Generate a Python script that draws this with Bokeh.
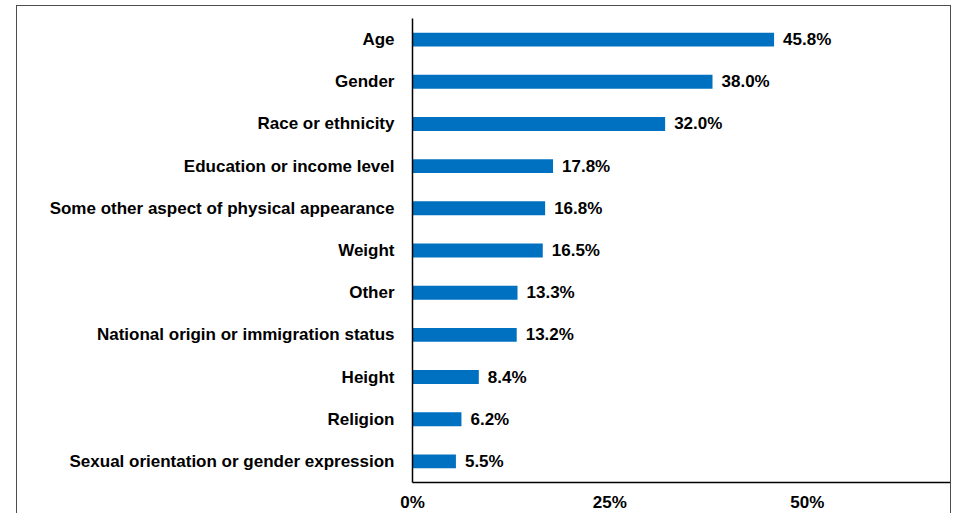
from bokeh.plotting import figure
from bokeh.models import ColumnDataSource, FixedTicker, PrintfTickFormatter, FactorRange, Range1d
from bokeh.core.properties import value
from bokeh.embed import file_html
from bokeh.resources import INLINE

categories = [
    "Age",
    "Gender",
    "Race or ethnicity",
    "Education or income level",
    "Some other aspect of physical appearance",
    "Weight",
    "Other",
    "National origin or immigration status",
    "Height",
    "Religion",
    "Sexual orientation or gender expression",
]
values = [45.8, 38.0, 32.0, 17.8, 16.8, 16.5, 13.3, 13.2, 8.4, 6.2, 5.5]
x_ticks = [0, 25, 50]

labels = [f"{v:.1f}%" for v in values]
src = ColumnDataSource(dict(cat=categories, val=values, lab=labels))

FONT = "Liberation Sans"
FS = "17px"

p = figure(
    y_range=FactorRange(*list(reversed(categories))),
    x_range=Range1d(0, 68.4),
    width=935, height=508,
    output_backend="svg", toolbar_location=None,
    min_border_left=395, min_border_right=0, min_border_top=12, min_border_bottom=31,
)
p.margin = (5, 0, 0, 16)
p.styles = {
    "border-left": "1px solid #4d4d4d",
    "border-top": "1px solid #4d4d4d",
    "border-right": "1px solid #4d4d4d",
}

p.hbar(y="cat", right="val", left=0, height=0.33, source=src,
       fill_color="#0070C0", line_color=None)
p.text(x="val", y="cat", text="lab", source=src, x_offset=9,
       text_baseline="middle", text_align="left",
       text_font=value(FONT), text_font_style="bold", text_font_size=FS,
       text_color="#000000")

p.outline_line_color = None
p.xgrid.grid_line_color = None
p.ygrid.grid_line_color = None

p.xaxis.ticker = FixedTicker(ticks=x_ticks)
p.xaxis.formatter = PrintfTickFormatter(format="%d%%")
p.xaxis.major_tick_line_color = None
p.xaxis.minor_tick_line_color = None
p.xaxis.major_tick_out = 0
p.xaxis.major_tick_in = 0
p.xaxis.major_label_standoff = 10
p.xaxis.axis_line_color = "#000000"
p.xaxis.axis_line_width = 1.5

p.yaxis.major_tick_line_color = None
p.yaxis.minor_tick_line_color = None
p.yaxis.major_tick_out = 0
p.yaxis.major_tick_in = 0
p.yaxis.major_label_standoff = 18
p.yaxis.axis_line_color = "#000000"
p.yaxis.axis_line_width = 1.5

for ax in (p.xaxis, p.yaxis):
    ax.major_label_text_font = FONT
    ax.major_label_text_font_style = "bold"
    ax.major_label_text_font_size = FS
    ax.major_label_text_color = "#000000"

open("out.html", "w").write(file_html(p, INLINE))
